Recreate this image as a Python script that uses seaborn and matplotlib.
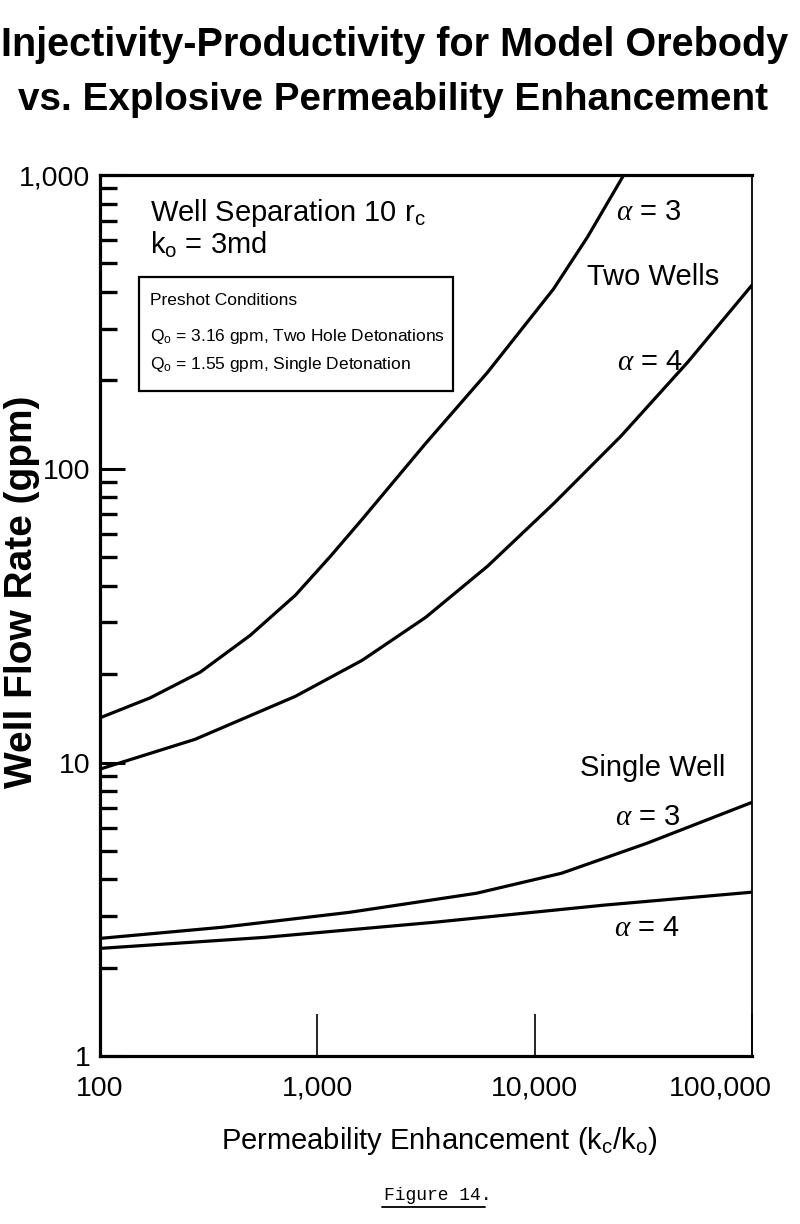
import matplotlib
matplotlib.use("Agg")
import matplotlib.pyplot as plt
import matplotlib.ticker as mticker
from matplotlib.transforms import ScaledTranslation
from matplotlib.patches import Rectangle
from matplotlib.lines import Line2D
import pandas as pd
import seaborn as sns

# values (k_c/k_o vs well flow rate in gpm)
two_a3_x = [100, 170, 289, 491, 792, 1150, 1610, 3150, 6070, 12200, 17500, 25700]
two_a3_y = [14.2, 16.6, 20.3, 27.1, 37.1, 50.4, 67.4, 122, 213, 409, 615, 1000]

two_a4_x = [100, 274, 792, 1610, 3150, 6070, 12200, 24900, 50700, 100000]
two_a4_y = [9.5, 12.0, 16.8, 22.3, 31.2, 46.6, 76, 129, 231, 422]

single_a3_x = [100, 365, 1400, 5400, 13300, 32800, 100000]
single_a3_y = [2.52, 2.75, 3.09, 3.59, 4.20, 5.31, 7.32]

single_a4_x = [100, 570, 3460, 20800, 100000]
single_a4_y = [2.33, 2.54, 2.86, 3.27, 3.62]

x_ticks = [100, 1000, 10000, 100000]
x_tick_labels = ["100", "1,000", "10,000", "100,000"]
y_ticks = [1, 10, 100, 1000]
y_tick_labels = ["1", "10", "100", "1,000"]

curves = {
    "two_a3": (two_a3_x, two_a3_y),
    "two_a4": (two_a4_x, two_a4_y),
    "single_a3": (single_a3_x, single_a3_y),
    "single_a4": (single_a4_x, single_a4_y),
}

sns.set_style("ticks")
plt.rcParams["font.family"] = ["Liberation Sans", "DejaVu Sans"]
plt.rcParams["mathtext.fontset"] = "custom"
plt.rcParams["mathtext.rm"] = "Liberation Sans"
plt.rcParams["mathtext.it"] = "Liberation Serif:italic"
plt.rcParams["text.color"] = "black"
plt.rcParams["axes.labelcolor"] = "black"
plt.rcParams["xtick.color"] = "black"
plt.rcParams["ytick.color"] = "black"

fig = plt.figure(figsize=(8, 12.24), dpi=100)
ax = fig.add_axes([0.125, 0.137, 0.815, 0.72])


def px(x, y):
    # pixel position in the reference -> axes fraction
    return (x - 100) / 652, (1056 - y) / 881


for name, (xs, ys) in curves.items():
    df = pd.DataFrame({"k": xs, "q": ys})
    sns.lineplot(data=df, x="k", y="q", ax=ax, color="black", lw=2.3,
                 sort=False, estimator=None)

ax.set_xscale("log")
ax.set_yscale("log")
ax.set_xlim(100, 100000)
ax.set_ylim(1, 1000)

ax.xaxis.set_major_locator(mticker.FixedLocator(x_ticks))
ax.xaxis.set_major_formatter(mticker.FixedFormatter(x_tick_labels))
ax.xaxis.set_minor_locator(mticker.NullLocator())
ax.yaxis.set_major_locator(mticker.FixedLocator(y_ticks))
ax.yaxis.set_major_formatter(mticker.FixedFormatter(y_tick_labels))
ax.yaxis.set_minor_locator(mticker.LogLocator(base=10, subs=range(2, 10)))
ax.yaxis.set_minor_formatter(mticker.NullFormatter())

ax.tick_params(axis="x", which="major", direction="in", length=30, width=1.2,
               labelsize=20.5, pad=14, colors="black")
ax.tick_params(axis="y", which="major", direction="in", length=18, width=2.2,
               labelsize=20.5, pad=7, colors="black")
ax.tick_params(axis="y", which="minor", direction="in", length=12, width=2.4,
               colors="black")

for side in ["top", "bottom", "left"]:
    ax.spines[side].set_linewidth(2.3)
    ax.spines[side].set_color("black")
ax.spines["right"].set_linewidth(1.3)
ax.spines["right"].set_color("black")

# shift the last x label so it stays inside the figure
lab = ax.xaxis.get_major_ticks()[-1].label1
lab.set_transform(lab.get_transform() + ScaledTranslation(-0.32, 0, fig.dpi_scale_trans))

ax.set_xlabel("Permeability Enhancement (k$_\\mathregular{c}$/k$_\\mathregular{o}$)",
              fontsize=21, color="black")
ax.xaxis.set_label_coords(0.521, -0.078)
ax.set_ylabel("")

fig.text(22 / 800, 1 - 592 / 1224, "Well Flow Rate (gpm)", rotation=90,
         ha="center", va="center", fontsize=28, fontweight="bold", color="black")

# title
fig.text(395 / 800, 1 - 45 / 1224, "Injectivity-Productivity for Model Orebody",
         ha="center", va="center", fontsize=28.5, fontweight="bold", color="black")
fig.text(393 / 800, 1 - 100 / 1224, "vs. Explosive Permeability Enhancement",
         ha="center", va="center", fontsize=27.8, fontweight="bold", color="black")

# annotations in the plot
x0, y0 = px(150, 221)
ax.text(x0, y0, "Well Separation 10 r$_\\mathregular{c}$", transform=ax.transAxes,
        fontsize=21, va="baseline", ha="left", color="black")
x0, y0 = px(150, 254)
ax.text(x0, y0, "k$_\\mathregular{o}$ = 3md", transform=ax.transAxes,
        fontsize=21, va="baseline", ha="left", color="black")

bx0, by0 = px(139, 391)
bx1, by1 = px(453, 277)
ax.add_patch(Rectangle((bx0, by0), bx1 - bx0, by1 - by0, transform=ax.transAxes,
                       fill=False, lw=1.6, ec="black", zorder=3))
box_lines = [
    (300, "Preshot Conditions"),
    (336, "Q$_\\mathregular{o}$ = 3.16 gpm, Two Hole Detonations"),
    (364, "Q$_\\mathregular{o}$ = 1.55 gpm, Single Detonation"),
]
for ypix, txt in box_lines:
    x0, y0 = px(150, ypix)
    ax.text(x0, y0, txt, transform=ax.transAxes, fontsize=12.5,
            ha="left", va="center", color="black")

labels = [
    (649, 212, "$\\alpha$ = 3"),
    (653, 277, "Two Wells"),
    (650, 362, "$\\alpha$ = 4"),
    (653, 768, "Single Well"),
    (648, 817, "$\\alpha$ = 3"),
    (647, 928, "$\\alpha$ = 4"),
]
for xp, yp, txt in labels:
    x0, y0 = px(xp, yp)
    ax.text(x0, y0, txt, transform=ax.transAxes, fontsize=21, ha="center",
            va="center", color="black")

# figure caption
fig.text(438 / 800, 1 - 1195 / 1224, "Figure 14.", ha="center", va="center",
         fontsize=13, family=["Liberation Mono", "DejaVu Sans Mono"], color="black")
fig.add_artist(Line2D([382 / 800, 485 / 800], [1 - 1207 / 1224, 1 - 1207 / 1224],
                      transform=fig.transFigure, color="black", lw=1.3))

fig.savefig("out.png", dpi=100)
